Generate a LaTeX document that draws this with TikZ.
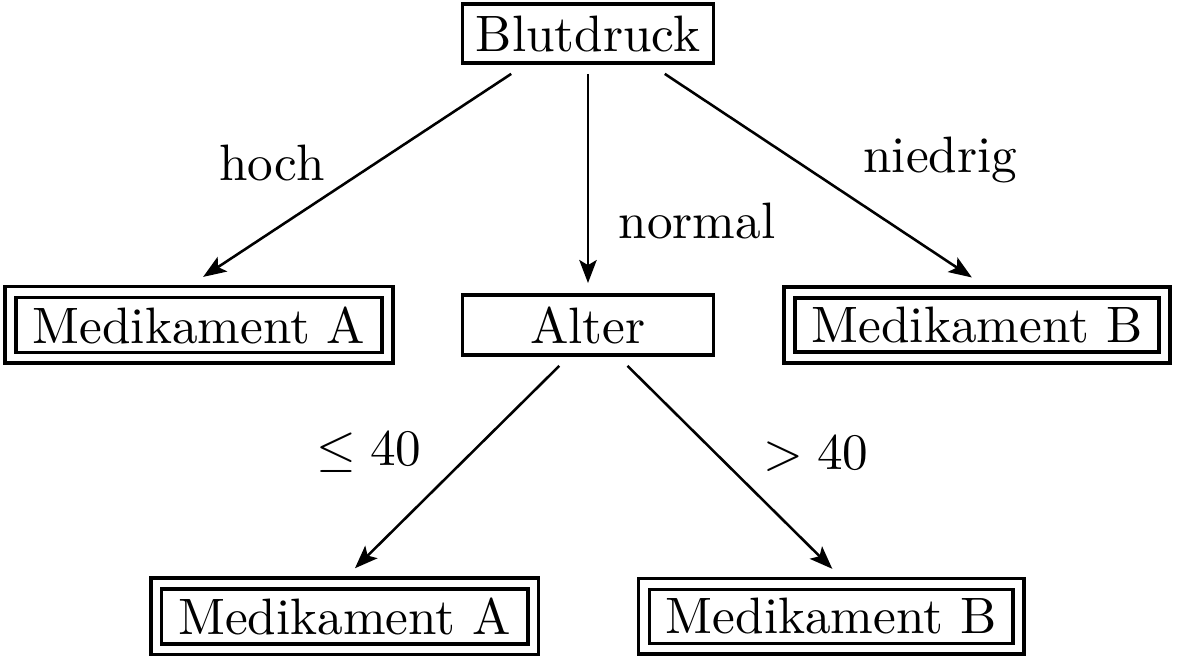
\documentclass[tikz,border=0pt]{standalone}
\usepackage{amsmath}
\usepackage{tikz}
\usetikzlibrary{
    positioning,
    arrows.meta
}
\tikzset{
  basic/.style = {
      draw,
      rectangle,
      line width=0.7pt,
      align=center
  },
  box/.style = {
      basic,
      inner xsep=2.6pt,
      inner ysep=2.2pt,
      minimum width=49pt
  },
  leaf/.style = {
      basic,
      double,
      double distance=1.4pt,
      inner xsep=4.3pt,
      inner ysep=2.8pt
  },
  edge/.style = {
      line width=0.5pt,
      -{Stealth[length=4.5pt, width=3.4pt, inset=1pt]}
  },
  branch/.style = {
      anchor=base
  }
}

\begin{document}
\begin{tikzpicture}[node distance=2cm]
        \useasboundingbox (-114.84pt,-121.56pt) rectangle (115.23pt,6.56pt);
        \node[box] (blut) at (0,0) {Blutdruck};
        \node[box, below of=blut] (alter) {Alter};
        \node[leaf, left of=alter, node distance=2.67cm] (medA) {Medikament A};
        \node[leaf, right of=alter, node distance=2.67cm] (medB) {Medikament B};
        \node[leaf, below of=alter, xshift=-1.67cm] (medAA) {Medikament A};
        \node[leaf, below of=alter, xshift=1.67cm] (medBB) {Medikament B};
        % Labels
        \node[branch] (hoch) at (-61.7pt,-28.7pt) {hoch};
        \node[branch] (normal) at (21.3pt,-40pt) {normal};
        \node[branch] (niedrig) at (68.8pt,-27.1pt) {niedrig};
        \node[branch] (jung) at (-42.8pt,-84.4pt) {$\leq 40$};
        \node[branch] (alt) at (44.5pt,-85.2pt) {$> 40$};
        % Edges
        \draw[edge] ([xshift=-15pt, yshift=-1.8pt]blut.south) -- ([xshift=0.8pt, yshift=2.6pt]medA.north);
        \draw[edge] ([yshift=-1.8pt]blut.south) -- ([yshift=2pt]alter.north);
        \draw[edge] ([xshift=15pt, yshift=-1.8pt]blut.south) -- ([xshift=-1pt, yshift=2.6pt]medB.north);
        \draw[edge] ([xshift=-5.6pt, yshift=-1.8pt]alter.south) -- ([xshift=2pt, yshift=2.6pt]medAA.north);
        \draw[edge] ([xshift=7.7pt, yshift=-1.8pt]alter.south) -- ([xshift=0.2pt, yshift=2.6pt]medBB.north);
\end{tikzpicture}
\end{document}
